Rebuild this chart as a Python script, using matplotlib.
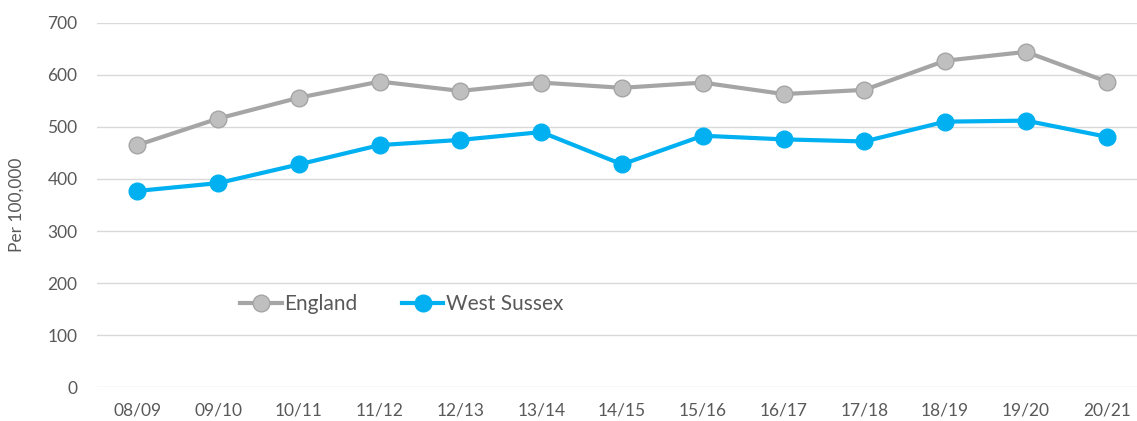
import matplotlib
matplotlib.use("Agg")
import matplotlib.pyplot as plt

categories = ["08/09", "09/10", "10/11", "11/12", "12/13", "13/14", "14/15",
              "15/16", "16/17", "17/18", "18/19", "19/20", "20/21"]
england = [465, 516, 556, 587, 569, 585, 575, 585, 563, 571, 627, 644, 587]
west_sussex = [377, 392, 428, 465, 475, 490, 428, 483, 476, 472, 510, 512, 481]
yticks = [0, 100, 200, 300, 400, 500, 600, 700]

plt.rcParams['font.family'] = ['Lato', 'DejaVu Sans']

fig = plt.figure(figsize=(11.37, 4.21), dpi=100)
ax = fig.add_axes([97/1137, (421-387.3)/421, 1040/1137, 364.6/421])

x = list(range(len(categories)))
ax.plot(x, england, color="#A5A5A5", lw=3, marker="o", ms=12,
        markerfacecolor="#BFBFBF", markeredgecolor="#A5A5A5", markeredgewidth=1,
        label="England", zorder=3)
ax.plot(x, west_sussex, color="#00B0F0", lw=3, marker="o", ms=12,
        markerfacecolor="#00B0F0", markeredgecolor="#00B0F0",
        label="West Sussex", zorder=3)

ax.set_ylim(0, 700)
ax.set_xlim(-0.5, 12 + (1137 - 1106.7) / 80.75)
ax.set_yticks(yticks)
ax.set_xticks(x)
ax.set_xticklabels(categories)
ax.grid(axis="y", color="#D9D9D9", lw=1)
ax.set_axisbelow(True)
for s in ax.spines.values():
    s.set_visible(False)
ax.tick_params(axis="both", length=0, labelsize=12.5, colors="#595959")
ax.tick_params(axis="y", pad=14)
ax.tick_params(axis="x", pad=11)
ax.set_ylabel("Per 100,000", fontsize=12.5, color="#595959")
ax.yaxis.set_label_coords(-(97 - 25) / 1040, 0.5)

leg = ax.legend(loc="center left", bbox_to_anchor=(143/1040, 159/700), ncol=2,
                frameon=False, fontsize=15, handlelength=2.0, handletextpad=0.1,
                columnspacing=2.15, labelcolor="#595959", borderaxespad=0,
                borderpad=0)

fig.savefig("out.png", dpi=100)
